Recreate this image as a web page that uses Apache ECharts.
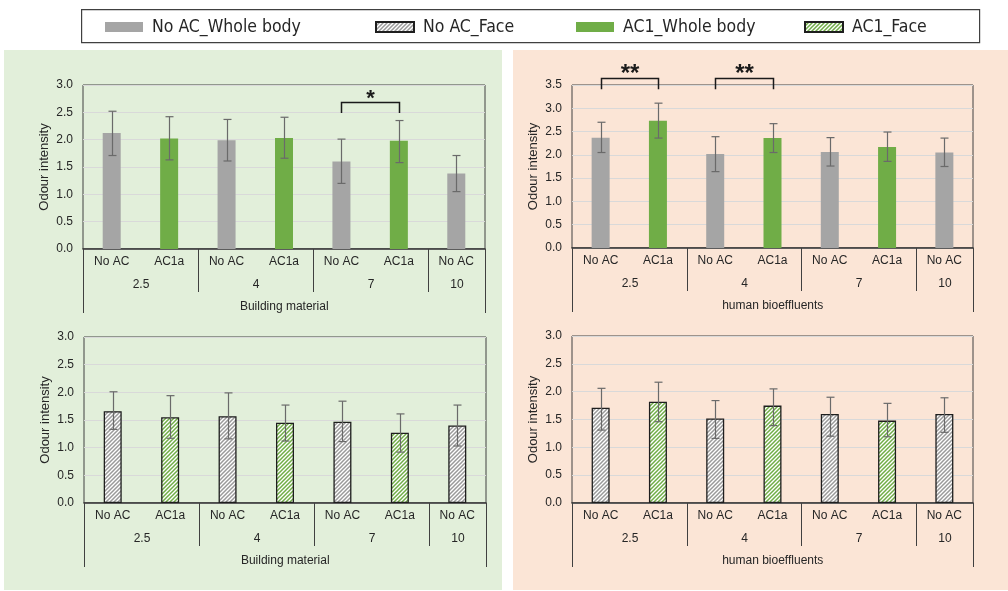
<!DOCTYPE html>
<html>
<head>
<meta charset="utf-8">
<script src="https://cdn.jsdelivr.net/npm/echarts@6/dist/echarts.min.js"></script>
<style>
  html, body { margin: 0; padding: 0; background: #ffffff; }
  #wrap { position: relative; width: 1008px; height: 591px; }
  .panel { position: absolute; }
  #chart { position: absolute; left: 0; top: 0; width: 1008px; height: 591px; }
</style>
</head>
<body>
<div id="wrap">
  <div class="panel" style="left:4px;top:50px;width:498px;height:540px;background:#e2efda;"></div>
  <div class="panel" style="left:513px;top:50px;width:495px;height:540px;background:#fbe5d6;"></div>
  <div id="chart"></div>
</div>
<script>
// Category axis: treatment per ventilation level, grouped by air change rate
const categories = ['No AC', 'AC1a', 'No AC', 'AC1a', 'No AC', 'AC1a', 'No AC'];
const groupLabels = ['2.5', '4', '7', '10'];
const groupSpans = [[0, 1], [2, 3], [4, 5], [6, 6]];
const seriesNames = ['No AC_Whole body', 'No AC_Face', 'AC1_Whole body', 'AC1_Face'];

// Building material, whole body exposure
const bmWholeMean = [2.12, 2.02, 1.99, 2.03, 1.60, 1.98, 1.38];
const bmWholeLow  = [1.71, 1.63, 1.61, 1.66, 1.20, 1.58, 1.05];
const bmWholeHigh = [2.52, 2.42, 2.37, 2.41, 2.01, 2.35, 1.71];
// Human bioeffluents, whole body exposure
const hbWholeMean = [2.37, 2.73, 2.02, 2.36, 2.06, 2.17, 2.05];
const hbWholeLow  = [2.05, 2.36, 1.64, 2.05, 1.76, 1.86, 1.75];
const hbWholeHigh = [2.70, 3.11, 2.39, 2.67, 2.37, 2.49, 2.36];
// Building material, face exposure
const bmFaceMean = [1.66, 1.55, 1.57, 1.45, 1.47, 1.27, 1.40];
const bmFaceLow  = [1.33, 1.17, 1.16, 1.12, 1.11, 0.92, 1.03];
const bmFaceHigh = [2.01, 1.94, 1.99, 1.77, 1.84, 1.61, 1.77];
// Human bioeffluents, face exposure
const hbFaceMean = [1.71, 1.82, 1.52, 1.75, 1.60, 1.48, 1.60];
const hbFaceLow  = [1.31, 1.46, 1.16, 1.39, 1.20, 1.19, 1.27];
const hbFaceHigh = [2.06, 2.17, 1.84, 2.05, 1.90, 1.79, 1.89];

// Significance brackets: [from category, to category, bracket top, leg end]
const bmWholeSig = [[4, 5, 2.69, 2.49]];
const bmWholeSigText = ['*'];
const hbWholeSig = [[0, 1, 3.64, 3.41], [2, 3, 3.64, 3.41]];
const hbWholeSigText = ['**', '**'];

const axisTitles = ['Building material', 'human bioeffluents', 'Building material', 'human bioeffluents'];

const FONT = "'Liberation Sans', Arial, sans-serif";
const TXT = '#262626';
const GRAY = '#a5a5a5';
const GREEN = '#70ad47';

function hatch(color) {
  const s = 4;
  const c = document.createElement('canvas');
  c.width = s; c.height = s;
  const g = c.getContext('2d');
  g.fillStyle = '#ffffff';
  g.fillRect(0, 0, s, s);
  g.strokeStyle = color;
  g.lineWidth = 1.5;
  g.beginPath();
  g.moveTo(-1, s + 1); g.lineTo(s + 1, -1);
  g.moveTo(-2, 2); g.lineTo(2, -2);
  g.moveTo(s - 2, s + 2); g.lineTo(s + 2, s - 2);
  g.stroke();
  return { image: c, repeat: 'repeat' };
}
const grayHatch = hatch('#9a9a9a');
const greenHatch = hatch('#70ad47');

const grids = [
  { left: 83, top: 85, width: 402, height: 164 },
  { left: 572, top: 85, width: 401, height: 163 },
  { left: 84, top: 337, width: 402, height: 166 },
  { left: 572, top: 336, width: 401, height: 167 }
];
const yMax = [3, 3.5, 3, 3];

const panels = [
  { mean: bmWholeMean, low: bmWholeLow, high: bmWholeHigh, names: [seriesNames[0], seriesNames[2]],
    styles: [{ color: GRAY }, { color: GREEN }] },
  { mean: hbWholeMean, low: hbWholeLow, high: hbWholeHigh, names: [seriesNames[0], seriesNames[2]],
    styles: [{ color: GRAY }, { color: GREEN }] },
  { mean: bmFaceMean, low: bmFaceLow, high: bmFaceHigh, names: [seriesNames[1], seriesNames[3]],
    styles: [{ color: grayHatch, borderColor: '#1e1e1e', borderWidth: 1.3 },
             { color: greenHatch, borderColor: '#1e1e1e', borderWidth: 1.3 }] },
  { mean: hbFaceMean, low: hbFaceLow, high: hbFaceHigh, names: [seriesNames[1], seriesNames[3]],
    styles: [{ color: grayHatch, borderColor: '#1e1e1e', borderWidth: 1.3 },
             { color: greenHatch, borderColor: '#1e1e1e', borderWidth: 1.3 }] }
];

function errorBarItem(params, api) {
  const x = api.value(0);
  const pHi = api.coord([x, api.value(2)]);
  const pLo = api.coord([x, api.value(1)]);
  const cx = Math.round(pHi[0]) + 0.5;
  const cap = 4;
  const st = { stroke: '#6a6a6a', lineWidth: 1.2 };
  return {
    type: 'group',
    children: [
      { type: 'line', shape: { x1: cx, y1: pHi[1], x2: cx, y2: pLo[1] }, style: st },
      { type: 'line', shape: { x1: cx - cap, y1: pHi[1], x2: cx + cap, y2: pHi[1] }, style: st },
      { type: 'line', shape: { x1: cx - cap, y1: pLo[1], x2: cx + cap, y2: pLo[1] }, style: st }
    ]
  };
}

// Two-level category axis: group labels, separators and axis title
function makeGroupAxis(title) {
  return function (params, api) {
    const band = api.size([1, 0])[0];
    const from = api.value(0), to = api.value(1);
    const a = api.coord([from, 0]);
    const b = api.coord([to, 0]);
    const x0 = Math.round(a[0] - band / 2) + 0.5;
    const x1 = Math.round(b[0] + band / 2) + 0.5;
    const y0 = a[1];
    const lineSt = { stroke: '#404040', lineWidth: 1 };
    const first = params.dataIndex === 0;
    const last = params.dataIndex === params.dataInsideLength - 1;
    const children = [
      { type: 'line', shape: { x1: x0, y1: y0, x2: x0, y2: y0 + (first ? 64 : 43) }, style: lineSt },
      { type: 'text', style: { text: groupLabels[params.dataIndex], x: (x0 + x1) / 2, y: y0 + 36,
          align: 'center', verticalAlign: 'middle', font: '12px ' + FONT, fill: TXT } }
    ];
    if (last) {
      children.push({ type: 'line', shape: { x1: x1, y1: y0, x2: x1, y2: y0 + 64 }, style: lineSt });
    }
    if (first) {
      const end = api.coord([categories.length - 1, 0])[0] + band / 2;
      children.push({ type: 'text', style: { text: title, x: (x0 + end) / 2, y: y0 + 58,
          align: 'center', verticalAlign: 'middle', font: '12px ' + FONT, fill: TXT } });
    }
    return { type: 'group', children: children };
  };
}

function makeBracket(labels, fontSize) {
  return function (params, api) {
    const p1 = api.coord([api.value(0), api.value(2)]);
    const p2 = api.coord([api.value(1), api.value(2)]);
    const leg = api.coord([api.value(0), api.value(3)])[1];
    const x1 = Math.round(p1[0]) + 0.5, x2 = Math.round(p2[0]) + 0.5;
    const yt = Math.round(p1[1]) + 0.5;
    return {
      type: 'group',
      children: [
        { type: 'polyline', shape: { points: [[x1, leg], [x1, yt], [x2, yt], [x2, leg]] },
          style: { stroke: '#1a1a1a', lineWidth: 1.5, fill: null } },
        { type: 'text', style: { text: labels[params.dataIndex], x: (x1 + x2) / 2, y: yt - 4,
            align: 'center', verticalAlign: 'middle', font: 'bold ' + fontSize + 'px ' + FONT, fill: '#1a1a1a' } }
      ]
    };
  };
}

const option = {
  animation: false,
  backgroundColor: 'transparent',
  textStyle: { fontFamily: FONT },
  legend: [105, 375, 576, 804].map((x, i) => ({
    data: [seriesNames[i]], left: x, top: 18, itemWidth: 38, itemHeight: 10,
    icon: 'rect', selectedMode: false, padding: 0,
    textStyle: { fontFamily: "'Liberation Sans Narrow', 'DejaVu Sans Condensed', sans-serif",
                 fontSize: 17.5, color: TXT, padding: [0, 0, 0, 4] }
  })),
  graphic: [{
    type: 'rect', left: 81, top: 9, shape: { width: 898, height: 33 },
    style: { fill: 'transparent', stroke: '#404040', lineWidth: 1.2 }, silent: true
  }],
  grid: grids.map(g => Object.assign({ show: true, borderColor: '#404040', borderWidth: 1,
                                         backgroundColor: 'transparent' }, g)),
  xAxis: grids.map((g, i) => ({
    type: 'category', gridIndex: i, data: categories,
    axisLine: { lineStyle: { color: '#333333', width: 1.6 } },
    axisTick: { show: false },
    axisLabel: { interval: 0, fontSize: 12, color: TXT, margin: 7 },
    splitLine: { show: false }
  })),
  yAxis: grids.map((g, i) => ({
    type: 'value', gridIndex: i, min: 0, max: yMax[i], interval: 0.5,
    name: 'Odour intensity', nameLocation: 'middle', nameGap: 32,
    nameTextStyle: { fontSize: 13, color: TXT },
    axisLine: { show: false }, axisTick: { show: false },
    axisLabel: { formatter: v => v.toFixed(1), fontSize: 12, color: TXT, margin: 10 },
    splitLine: { lineStyle: { color: '#d9d9d9', width: 1 } }
  })),
  series: []
};

panels.forEach((p, i) => {
  const noAc = p.mean.map((v, k) => categories[k] === 'No AC' ? v : '-');
  const ac = p.mean.map((v, k) => categories[k] === 'AC1a' ? v : '-');
  option.series.push(
    { name: p.names[0], type: 'bar', xAxisIndex: i, yAxisIndex: i, barWidth: 18, barGap: '-100%',
      data: noAc, itemStyle: p.styles[0], z: 2 },
    { name: p.names[1], type: 'bar', xAxisIndex: i, yAxisIndex: i, barWidth: 18, barGap: '-100%',
      data: ac, itemStyle: p.styles[1], z: 2 },
    { type: 'custom', xAxisIndex: i, yAxisIndex: i, clip: false, silent: true, z: 5,
      renderItem: errorBarItem,
      data: p.mean.map((v, k) => [k, p.low[k], p.high[k]]) },
    { type: 'custom', xAxisIndex: i, yAxisIndex: i, clip: false, silent: true, z: 5,
      renderItem: makeGroupAxis(axisTitles[i]), data: groupSpans }
  );
});

option.series.push(
  { type: 'custom', xAxisIndex: 0, yAxisIndex: 0, clip: false, silent: true, z: 6,
    renderItem: makeBracket(bmWholeSigText, 22), data: bmWholeSig },
  { type: 'custom', xAxisIndex: 1, yAxisIndex: 1, clip: false, silent: true, z: 6,
    renderItem: makeBracket(hbWholeSigText, 24), data: hbWholeSig }
);

const chart = echarts.init(document.getElementById('chart'), null, { renderer: 'canvas' });
chart.setOption(option);
</script>
</body>
</html>
